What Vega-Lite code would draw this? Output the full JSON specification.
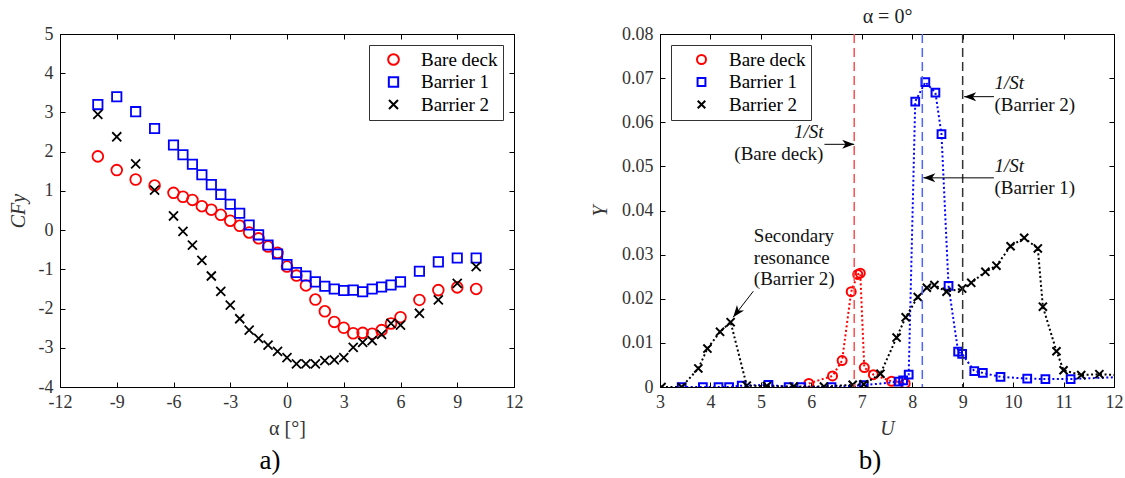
{
  "$schema": "https://vega.github.io/schema/vega-lite/v6.json",
  "padding": {"left": 7, "top": 6, "right": 4, "bottom": 2},
  "background": "white",
  "config": {
    "font": "Liberation Serif",
    "view": {"stroke": "#000", "strokeWidth": 1},
    "axis": {
      "labelFont": "Liberation Serif", "labelFontSize": 18, "labelColor": "#333", "labelFlush": false,
      "titleFont": "Liberation Serif", "titleFontSize": 20, "titleFontWeight": "normal", "titleColor": "#333",
      "gridColor": "#b3b3b3", "gridDash": [1, 1], "gridWidth": 1,
      "tickColor": "#000", "tickSize": -5, "domainColor": "#000", "labelPadding": 12
    },
    "legend": {
      "labelFont": "Liberation Serif", "labelFontSize": 19, "labelColor": "#000",
      "strokeColor": "#333", "fillColor": "white", "padding": 5, "rowPadding": 2.5,
      "symbolStrokeWidth": 2, "cornerRadius": 0
    }
  },
  "datasets": {
    "cfy": [
      {"series": "Bare deck", "alpha": -10, "C": 1.88}, {"series": "Bare deck", "alpha": -9, "C": 1.53},
      {"series": "Bare deck", "alpha": -8, "C": 1.29}, {"series": "Bare deck", "alpha": -7, "C": 1.14},
      {"series": "Bare deck", "alpha": -6, "C": 0.95}, {"series": "Bare deck", "alpha": -5.5, "C": 0.85},
      {"series": "Bare deck", "alpha": -5, "C": 0.77}, {"series": "Bare deck", "alpha": -4.5, "C": 0.61},
      {"series": "Bare deck", "alpha": -4, "C": 0.52}, {"series": "Bare deck", "alpha": -3.5, "C": 0.39},
      {"series": "Bare deck", "alpha": -3, "C": 0.24}, {"series": "Bare deck", "alpha": -2.5, "C": 0.11},
      {"series": "Bare deck", "alpha": -2, "C": -0.06}, {"series": "Bare deck", "alpha": -1.5, "C": -0.21},
      {"series": "Bare deck", "alpha": -1, "C": -0.42}, {"series": "Bare deck", "alpha": -0.5, "C": -0.58},
      {"series": "Bare deck", "alpha": 0, "C": -0.93}, {"series": "Bare deck", "alpha": 0.5, "C": -1.16},
      {"series": "Bare deck", "alpha": 1, "C": -1.41}, {"series": "Bare deck", "alpha": 1.5, "C": -1.77},
      {"series": "Bare deck", "alpha": 2, "C": -2.07}, {"series": "Bare deck", "alpha": 2.5, "C": -2.34},
      {"series": "Bare deck", "alpha": 3, "C": -2.49}, {"series": "Bare deck", "alpha": 3.5, "C": -2.63},
      {"series": "Bare deck", "alpha": 4, "C": -2.62}, {"series": "Bare deck", "alpha": 4.5, "C": -2.64},
      {"series": "Bare deck", "alpha": 5, "C": -2.55}, {"series": "Bare deck", "alpha": 5.5, "C": -2.38},
      {"series": "Bare deck", "alpha": 6, "C": -2.22}, {"series": "Bare deck", "alpha": 7, "C": -1.78},
      {"series": "Bare deck", "alpha": 8, "C": -1.53}, {"series": "Bare deck", "alpha": 9, "C": -1.46},
      {"series": "Bare deck", "alpha": 10, "C": -1.5},
      {"series": "Barrier 1", "alpha": -10, "C": 3.2}, {"series": "Barrier 1", "alpha": -9, "C": 3.4},
      {"series": "Barrier 1", "alpha": -8, "C": 3.02}, {"series": "Barrier 1", "alpha": -7, "C": 2.59},
      {"series": "Barrier 1", "alpha": -6, "C": 2.17}, {"series": "Barrier 1", "alpha": -5.5, "C": 1.92},
      {"series": "Barrier 1", "alpha": -5, "C": 1.68}, {"series": "Barrier 1", "alpha": -4.5, "C": 1.41},
      {"series": "Barrier 1", "alpha": -4, "C": 1.16}, {"series": "Barrier 1", "alpha": -3.5, "C": 0.91},
      {"series": "Barrier 1", "alpha": -3, "C": 0.66}, {"series": "Barrier 1", "alpha": -2.5, "C": 0.43},
      {"series": "Barrier 1", "alpha": -2, "C": 0.13}, {"series": "Barrier 1", "alpha": -1.5, "C": -0.12},
      {"series": "Barrier 1", "alpha": -1, "C": -0.38}, {"series": "Barrier 1", "alpha": -0.5, "C": -0.61},
      {"series": "Barrier 1", "alpha": 0, "C": -0.88}, {"series": "Barrier 1", "alpha": 0.5, "C": -1.08},
      {"series": "Barrier 1", "alpha": 1, "C": -1.17}, {"series": "Barrier 1", "alpha": 1.5, "C": -1.32},
      {"series": "Barrier 1", "alpha": 2, "C": -1.43}, {"series": "Barrier 1", "alpha": 2.5, "C": -1.5},
      {"series": "Barrier 1", "alpha": 3, "C": -1.54}, {"series": "Barrier 1", "alpha": 3.5, "C": -1.53},
      {"series": "Barrier 1", "alpha": 4, "C": -1.57}, {"series": "Barrier 1", "alpha": 4.5, "C": -1.5},
      {"series": "Barrier 1", "alpha": 5, "C": -1.45}, {"series": "Barrier 1", "alpha": 5.5, "C": -1.4},
      {"series": "Barrier 1", "alpha": 6, "C": -1.32}, {"series": "Barrier 1", "alpha": 7, "C": -1.05},
      {"series": "Barrier 1", "alpha": 8, "C": -0.81}, {"series": "Barrier 1", "alpha": 9, "C": -0.71},
      {"series": "Barrier 1", "alpha": 10, "C": -0.71},
      {"series": "Barrier 2", "alpha": -10, "C": 2.95}, {"series": "Barrier 2", "alpha": -9, "C": 2.38},
      {"series": "Barrier 2", "alpha": -8, "C": 1.69}, {"series": "Barrier 2", "alpha": -7, "C": 1.02},
      {"series": "Barrier 2", "alpha": -6, "C": 0.36}, {"series": "Barrier 2", "alpha": -5.5, "C": -0.03},
      {"series": "Barrier 2", "alpha": -5, "C": -0.38}, {"series": "Barrier 2", "alpha": -4.5, "C": -0.77},
      {"series": "Barrier 2", "alpha": -4, "C": -1.17}, {"series": "Barrier 2", "alpha": -3.5, "C": -1.56},
      {"series": "Barrier 2", "alpha": -3, "C": -1.91}, {"series": "Barrier 2", "alpha": -2.5, "C": -2.26},
      {"series": "Barrier 2", "alpha": -2, "C": -2.55}, {"series": "Barrier 2", "alpha": -1.5, "C": -2.76},
      {"series": "Barrier 2", "alpha": -1, "C": -2.93}, {"series": "Barrier 2", "alpha": -0.5, "C": -3.09},
      {"series": "Barrier 2", "alpha": 0, "C": -3.25}, {"series": "Barrier 2", "alpha": 0.5, "C": -3.41},
      {"series": "Barrier 2", "alpha": 1, "C": -3.41}, {"series": "Barrier 2", "alpha": 1.5, "C": -3.41},
      {"series": "Barrier 2", "alpha": 2, "C": -3.33}, {"series": "Barrier 2", "alpha": 2.5, "C": -3.31},
      {"series": "Barrier 2", "alpha": 3, "C": -3.25}, {"series": "Barrier 2", "alpha": 3.5, "C": -2.99},
      {"series": "Barrier 2", "alpha": 4, "C": -2.86}, {"series": "Barrier 2", "alpha": 4.5, "C": -2.82},
      {"series": "Barrier 2", "alpha": 5, "C": -2.66}, {"series": "Barrier 2", "alpha": 5.5, "C": -2.38},
      {"series": "Barrier 2", "alpha": 6, "C": -2.42}, {"series": "Barrier 2", "alpha": 7, "C": -2.12},
      {"series": "Barrier 2", "alpha": 8, "C": -1.78}, {"series": "Barrier 2", "alpha": 9, "C": -1.36},
      {"series": "Barrier 2", "alpha": 10, "C": -0.93}
    ],
    "yU": [
      {"series": "Bare deck", "U": 5.95, "Y": 0.0008}, {"series": "Bare deck", "U": 6.42, "Y": 0.0025},
      {"series": "Bare deck", "U": 6.61, "Y": 0.006}, {"series": "Bare deck", "U": 6.79, "Y": 0.0216},
      {"series": "Bare deck", "U": 6.92, "Y": 0.0255}, {"series": "Bare deck", "U": 6.97, "Y": 0.0258},
      {"series": "Bare deck", "U": 7.05, "Y": 0.0044}, {"series": "Bare deck", "U": 7.23, "Y": 0.0028},
      {"series": "Bare deck", "U": 7.59, "Y": 0.0013}, {"series": "Bare deck", "U": 7.86, "Y": 0.0008},
      {"series": "Barrier 1", "U": 3.43, "Y": 0}, {"series": "Barrier 1", "U": 3.85, "Y": 0},
      {"series": "Barrier 1", "U": 4.16, "Y": 0}, {"series": "Barrier 1", "U": 4.37, "Y": 0},
      {"series": "Barrier 1", "U": 4.62, "Y": 0.0003}, {"series": "Barrier 1", "U": 5.15, "Y": 0.0005},
      {"series": "Barrier 1", "U": 5.55, "Y": 0}, {"series": "Barrier 1", "U": 5.8, "Y": 0},
      {"series": "Barrier 1", "U": 6.4, "Y": 0}, {"series": "Barrier 1", "U": 7.04, "Y": 0.0004},
      {"series": "Barrier 1", "U": 7.73, "Y": 0.0012}, {"series": "Barrier 1", "U": 7.82, "Y": 0.0015},
      {"series": "Barrier 1", "U": 7.93, "Y": 0.0028}, {"series": "Barrier 1", "U": 8.06, "Y": 0.0647},
      {"series": "Barrier 1", "U": 8.26, "Y": 0.0691}, {"series": "Barrier 1", "U": 8.46, "Y": 0.0667},
      {"series": "Barrier 1", "U": 8.58, "Y": 0.0573}, {"series": "Barrier 1", "U": 8.72, "Y": 0.0229},
      {"series": "Barrier 1", "U": 8.91, "Y": 0.008}, {"series": "Barrier 1", "U": 8.99, "Y": 0.0075},
      {"series": "Barrier 1", "U": 9.23, "Y": 0.0036}, {"series": "Barrier 1", "U": 9.4, "Y": 0.0032},
      {"series": "Barrier 1", "U": 9.75, "Y": 0.0023}, {"series": "Barrier 1", "U": 10.28, "Y": 0.0019},
      {"series": "Barrier 1", "U": 10.64, "Y": 0.0018}, {"series": "Barrier 1", "U": 11.14, "Y": 0.0018},
      {"series": "Barrier 1", "U": 12.2, "Y": 0.0023},
      {"series": "Barrier 2", "U": 3.03, "Y": 0}, {"series": "Barrier 2", "U": 3.43, "Y": 0},
      {"series": "Barrier 2", "U": 3.76, "Y": 0.0042}, {"series": "Barrier 2", "U": 3.94, "Y": 0.0087},
      {"series": "Barrier 2", "U": 4.19, "Y": 0.0125}, {"series": "Barrier 2", "U": 4.4, "Y": 0.0147},
      {"series": "Barrier 2", "U": 4.72, "Y": 0.0003}, {"series": "Barrier 2", "U": 5.12, "Y": 0.0002},
      {"series": "Barrier 2", "U": 5.65, "Y": 0.0001}, {"series": "Barrier 2", "U": 6.25, "Y": 0.0001},
      {"series": "Barrier 2", "U": 6.82, "Y": 0.0005}, {"series": "Barrier 2", "U": 7.04, "Y": 0.0006},
      {"series": "Barrier 2", "U": 7.37, "Y": 0.003}, {"series": "Barrier 2", "U": 7.69, "Y": 0.0112},
      {"series": "Barrier 2", "U": 7.87, "Y": 0.0158}, {"series": "Barrier 2", "U": 8.11, "Y": 0.0204},
      {"series": "Barrier 2", "U": 8.29, "Y": 0.0225}, {"series": "Barrier 2", "U": 8.44, "Y": 0.0231},
      {"series": "Barrier 2", "U": 8.68, "Y": 0.0216}, {"series": "Barrier 2", "U": 8.99, "Y": 0.0223},
      {"series": "Barrier 2", "U": 9.17, "Y": 0.0236}, {"series": "Barrier 2", "U": 9.45, "Y": 0.0261},
      {"series": "Barrier 2", "U": 9.67, "Y": 0.0275}, {"series": "Barrier 2", "U": 9.95, "Y": 0.0319},
      {"series": "Barrier 2", "U": 10.22, "Y": 0.0338}, {"series": "Barrier 2", "U": 10.49, "Y": 0.0314},
      {"series": "Barrier 2", "U": 10.59, "Y": 0.0182}, {"series": "Barrier 2", "U": 10.86, "Y": 0.0081},
      {"series": "Barrier 2", "U": 11.0, "Y": 0.0038}, {"series": "Barrier 2", "U": 11.35, "Y": 0.0027},
      {"series": "Barrier 2", "U": 11.71, "Y": 0.0029}, {"series": "Barrier 2", "U": 12.2, "Y": 0.0026}
    ],
    "invSt": [
      {"series": "Bare deck", "U": 6.85},
      {"series": "Barrier 1", "U": 8.2},
      {"series": "Barrier 2", "U": 9.0}
    ],
    "notesRight": [
      {"label": "(Bare deck)", "U": 6.24, "Y": 0.0529}
    ],
    "stRight": [
      {"label": "1/St", "U": 6.24, "Y": 0.0577}
    ],
    "notesLeft": [
      {"label": "(Barrier 2)", "U": 9.63, "Y": 0.0638},
      {"label": "(Barrier 1)", "U": 9.63, "Y": 0.0451},
      {"label": "Secondary", "U": 4.86, "Y": 0.0342},
      {"label": "resonance", "U": 4.86, "Y": 0.0293},
      {"label": "(Barrier 2)", "U": 4.86, "Y": 0.0245}
    ],
    "stLeft": [
      {"label": "1/St", "U": 9.63, "Y": 0.0688},
      {"label": "1/St", "U": 9.63, "Y": 0.05}
    ],
    "arrowRight": [
      {"U": 6.26, "Y": 0.055, "U2": 6.85, "Y2": 0.055}
    ],
    "arrowLeft": [
      {"U": 9.62, "Y": 0.0658, "U2": 9.03, "Y2": 0.0658},
      {"U": 9.62, "Y": 0.0474, "U2": 8.22, "Y2": 0.0474}
    ],
    "arrowDiag": [
      {"U": 4.85, "Y": 0.0217, "U2": 4.45, "Y2": 0.0158}
    ]
  },
  "spacing": 66,
  "hconcat": [
    {
      "width": 454,
      "height": 353,
      "title": {"text": "a)", "orient": "bottom", "fontSize": 27, "fontWeight": "normal", "font": "Liberation Serif", "color": "#000", "dx": -17, "offset": 10},
      "data": {"name": "cfy"},
      "layer": [
        {
          "mark": {"type": "point", "opacity": 0},
          "encoding": {
            "x": {"field": "alpha", "type": "quantitative", "scale": {"domain": [-12, 12], "nice": false},
                  "axis": {"orient": "top", "labels": false, "grid": false, "title": " ", "titlePadding": 7, "values": [-12, -9, -6, -3, 0, 3, 6, 9, 12]}},
            "y": {"field": "C", "type": "quantitative", "scale": {"domain": [-4, 5], "nice": false},
                  "axis": {"orient": "right", "labels": false, "grid": false, "title": null, "values": [-4, -3, -2, -1, 0, 1, 2, 3, 4, 5]}}
          }
        },
        {
          "mark": {"type": "point", "filled": false, "size": 115, "strokeWidth": 1.8, "opacity": 1},
          "encoding": {
            "x": {"field": "alpha", "type": "quantitative",
                  "axis": {"orient": "bottom", "title": "α [°]", "labelPadding": 11, "titlePadding": 7, "values": [-12, -9, -6, -3, 0, 3, 6, 9, 12], "labelExpr": "'' + datum.value"}},
            "y": {"field": "C", "type": "quantitative",
                  "axis": {"orient": "left", "title": "CFy", "titleFontStyle": "italic", "titlePadding": 10, "values": [-4, -3, -2, -1, 0, 1, 2, 3, 4, 5], "labelExpr": "'' + datum.value"}},
            "color": {"field": "series", "type": "nominal",
                      "scale": {"domain": ["Bare deck", "Barrier 1", "Barrier 2"], "range": ["#ff0000", "#0000ff", "#000000"]},
                      "legend": {"title": null, "orient": "top-right", "offset": 11, "symbolSize": 115, "symbolOffset": 10, "labelOffset": 18}},
            "shape": {"field": "series", "type": "nominal",
                      "scale": {"domain": ["Bare deck", "Barrier 1", "Barrier 2"], "range": ["circle", "M-0.87,-0.87H0.87V0.87H-0.87Z", "M-0.84,-0.84L0.84,0.84M-0.84,0.84L0.84,-0.84"]},
                      "legend": {"title": null, "orient": "top-right", "offset": 11, "symbolSize": 115, "symbolOffset": 10, "labelOffset": 18}}
          }
        }
      ],
      "resolve": {"axis": {"x": "independent", "y": "independent"}}
    },
    {
      "width": 454,
      "height": 353,
      "title": {"text": "b)", "orient": "bottom", "fontSize": 27, "fontWeight": "normal", "font": "Liberation Serif", "color": "#000", "dx": -17, "offset": 10},
      "layer": [
        {
          "data": {"name": "yU"},
          "mark": {"type": "point", "opacity": 0},
          "encoding": {
            "x": {"field": "U", "type": "quantitative", "scale": {"domain": [3, 12], "nice": false},
                  "axis": {"orient": "top", "labels": false, "grid": false, "title": "α = 0°", "titleColor": "#222", "titlePadding": 7, "values": [3, 4, 5, 6, 7, 8, 9, 10, 11, 12]}},
            "y": {"field": "Y", "type": "quantitative", "scale": {"domain": [0, 0.08], "nice": false},
                  "axis": {"orient": "right", "labels": false, "grid": false, "title": null, "values": [0, 0.01, 0.02, 0.03, 0.04, 0.05, 0.06, 0.07, 0.08]}}
          }
        },
        {
          "data": {"name": "yU"},
          "transform": [{"filter": "datum.series == 'Bare deck'"}],
          "mark": {"type": "line", "color": "#ff0000", "strokeWidth": 2, "strokeDash": [2, 2.5], "clip": true},
          "encoding": {
            "x": {"field": "U", "type": "quantitative",
                  "axis": {"orient": "bottom", "title": "U", "titleFontStyle": "italic", "labelPadding": 11, "titlePadding": 7, "values": [3, 4, 5, 6, 7, 8, 9, 10, 11, 12]}},
            "y": {"field": "Y", "type": "quantitative",
                  "axis": {"orient": "left", "title": "Y", "titleFontStyle": "italic", "titlePadding": 11, "format": ".2~f", "values": [0, 0.01, 0.02, 0.03, 0.04, 0.05, 0.06, 0.07, 0.08]}}
          }
        },
        {
          "data": {"name": "yU"},
          "transform": [{"filter": "datum.series == 'Bare deck'"}],
          "mark": {"type": "point", "shape": "circle", "filled": false, "color": "#ff0000", "opacity": 1, "size": 81, "strokeWidth": 2, "clip": true},
          "encoding": {"x": {"field": "U", "type": "quantitative", "axis": null}, "y": {"field": "Y", "type": "quantitative", "axis": null}}
        },
        {
          "data": {"name": "yU"},
          "transform": [{"filter": "datum.series == 'Barrier 1'"}],
          "mark": {"type": "line", "color": "#0000ff", "strokeWidth": 2, "strokeDash": [2, 2.5], "clip": true},
          "encoding": {"x": {"field": "U", "type": "quantitative", "axis": null}, "y": {"field": "Y", "type": "quantitative", "axis": null}}
        },
        {
          "data": {"name": "yU"},
          "transform": [{"filter": "datum.series == 'Barrier 1'"}],
          "mark": {"type": "point", "shape": "M-0.86,-0.86H0.86V0.86H-0.86Z", "filled": false, "color": "#0000ff", "opacity": 1, "size": 81, "strokeWidth": 2, "clip": true},
          "encoding": {"x": {"field": "U", "type": "quantitative", "axis": null}, "y": {"field": "Y", "type": "quantitative", "axis": null}}
        },
        {
          "data": {"name": "yU"},
          "transform": [{"filter": "datum.series == 'Barrier 2'"}],
          "mark": {"type": "line", "color": "#000000", "strokeWidth": 2, "strokeDash": [2, 2.5], "clip": true},
          "encoding": {"x": {"field": "U", "type": "quantitative", "axis": null}, "y": {"field": "Y", "type": "quantitative", "axis": null}}
        },
        {
          "data": {"name": "yU"},
          "transform": [{"filter": "datum.series == 'Barrier 2'"}],
          "mark": {"type": "point", "shape": "M-0.9,-0.9L0.9,0.9M-0.9,0.9L0.9,-0.9", "filled": false, "color": "#000000", "opacity": 1, "size": 81, "strokeWidth": 2, "clip": true},
          "encoding": {"x": {"field": "U", "type": "quantitative", "axis": null}, "y": {"field": "Y", "type": "quantitative", "axis": null}}
        },
        {
          "data": {"name": "invSt"},
          "transform": [{"filter": "datum.series == 'Bare deck'"}],
          "mark": {"type": "rule", "color": "#ff4d4d", "strokeWidth": 1.5, "strokeDash": [9, 5]},
          "encoding": {"x": {"field": "U", "type": "quantitative", "axis": null}}
        },
        {
          "data": {"name": "invSt"},
          "transform": [{"filter": "datum.series == 'Barrier 1'"}],
          "mark": {"type": "rule", "color": "#4d66ff", "strokeWidth": 1.5, "strokeDash": [9, 5]},
          "encoding": {"x": {"field": "U", "type": "quantitative", "axis": null}}
        },
        {
          "data": {"name": "invSt"},
          "transform": [{"filter": "datum.series == 'Barrier 2'"}],
          "mark": {"type": "rule", "color": "#333333", "strokeWidth": 1.5, "strokeDash": [9, 5]},
          "encoding": {"x": {"field": "U", "type": "quantitative", "axis": null}}
        },
        {
          "data": {"name": "arrowRight"},
          "mark": {"type": "rule", "color": "#000", "strokeWidth": 1},
          "encoding": {"x": {"field": "U", "type": "quantitative", "axis": null}, "y": {"field": "Y", "type": "quantitative", "axis": null}, "x2": {"field": "U2"}, "y2": {"field": "Y2"}}
        },
        {
          "data": {"name": "arrowRight"},
          "mark": {"type": "point", "shape": "M0,0L-0.75,2L0,1.45L0.75,2Z", "filled": true, "color": "#000", "opacity": 1, "size": 144, "angle": 90, "strokeWidth": 0},
          "encoding": {"x": {"field": "U2", "type": "quantitative", "axis": null}, "y": {"field": "Y2", "type": "quantitative", "axis": null}}
        },
        {
          "data": {"name": "arrowLeft"},
          "mark": {"type": "rule", "color": "#000", "strokeWidth": 1},
          "encoding": {"x": {"field": "U", "type": "quantitative", "axis": null}, "y": {"field": "Y", "type": "quantitative", "axis": null}, "x2": {"field": "U2"}, "y2": {"field": "Y2"}}
        },
        {
          "data": {"name": "arrowLeft"},
          "mark": {"type": "point", "shape": "M0,0L-0.75,2L0,1.45L0.75,2Z", "filled": true, "color": "#000", "opacity": 1, "size": 144, "angle": 270, "strokeWidth": 0},
          "encoding": {"x": {"field": "U2", "type": "quantitative", "axis": null}, "y": {"field": "Y2", "type": "quantitative", "axis": null}}
        },
        {
          "data": {"name": "arrowDiag"},
          "mark": {"type": "rule", "color": "#000", "strokeWidth": 1},
          "encoding": {"x": {"field": "U", "type": "quantitative", "axis": null}, "y": {"field": "Y", "type": "quantitative", "axis": null}, "x2": {"field": "U2"}, "y2": {"field": "Y2"}}
        },
        {
          "data": {"name": "arrowDiag"},
          "mark": {"type": "point", "shape": "M0,0L-0.75,2L0,1.45L0.75,2Z", "filled": true, "color": "#000", "opacity": 1, "size": 144, "angle": 218, "strokeWidth": 0},
          "encoding": {"x": {"field": "U2", "type": "quantitative", "axis": null}, "y": {"field": "Y2", "type": "quantitative", "axis": null}}
        },
        {
          "data": {"name": "notesRight"},
          "mark": {"type": "text", "align": "right", "baseline": "middle", "font": "Liberation Serif", "fontSize": 19, "color": "#111"},
          "encoding": {"x": {"field": "U", "type": "quantitative", "axis": null}, "y": {"field": "Y", "type": "quantitative", "axis": null}, "text": {"field": "label"}}
        },
        {
          "data": {"name": "stRight"},
          "mark": {"type": "text", "align": "right", "baseline": "middle", "font": "Liberation Serif", "fontSize": 19, "fontStyle": "italic", "color": "#111"},
          "encoding": {"x": {"field": "U", "type": "quantitative", "axis": null}, "y": {"field": "Y", "type": "quantitative", "axis": null}, "text": {"field": "label"}}
        },
        {
          "data": {"name": "notesLeft"},
          "mark": {"type": "text", "align": "left", "baseline": "middle", "font": "Liberation Serif", "fontSize": 19, "color": "#111"},
          "encoding": {"x": {"field": "U", "type": "quantitative", "axis": null}, "y": {"field": "Y", "type": "quantitative", "axis": null}, "text": {"field": "label"}}
        },
        {
          "data": {"name": "stLeft"},
          "mark": {"type": "text", "align": "left", "baseline": "middle", "font": "Liberation Serif", "fontSize": 19, "fontStyle": "italic", "color": "#111"},
          "encoding": {"x": {"field": "U", "type": "quantitative", "axis": null}, "y": {"field": "Y", "type": "quantitative", "axis": null}, "text": {"field": "label"}}
        },
        {
          "data": {"name": "yU"},
          "transform": [{"filter": "false"}],
          "mark": {"type": "point", "filled": false, "strokeWidth": 2, "opacity": 1},
          "encoding": {
            "color": {"field": "series", "type": "nominal",
                      "scale": {"domain": ["Bare deck", "Barrier 1", "Barrier 2"], "range": ["#ff0000", "#0000ff", "#000000"]},
                      "legend": {"title": null, "orient": "top-left", "offset": 11, "symbolSize": 81, "symbolOffset": 16, "labelOffset": 18}},
            "shape": {"field": "series", "type": "nominal",
                      "scale": {"domain": ["Bare deck", "Barrier 1", "Barrier 2"],
                                "range": ["circle", "M-0.8,-0.8H0.8V0.8H-0.8Z", "M-0.9,-0.9L0.9,0.9M-0.9,0.9L0.9,-0.9"]},
                      "legend": {"title": null, "orient": "top-left", "offset": 11, "symbolSize": 81, "symbolOffset": 16, "labelOffset": 18}}
          }
        }
      ],
      "resolve": {"axis": {"x": "independent", "y": "independent"}}
    }
  ]
}
